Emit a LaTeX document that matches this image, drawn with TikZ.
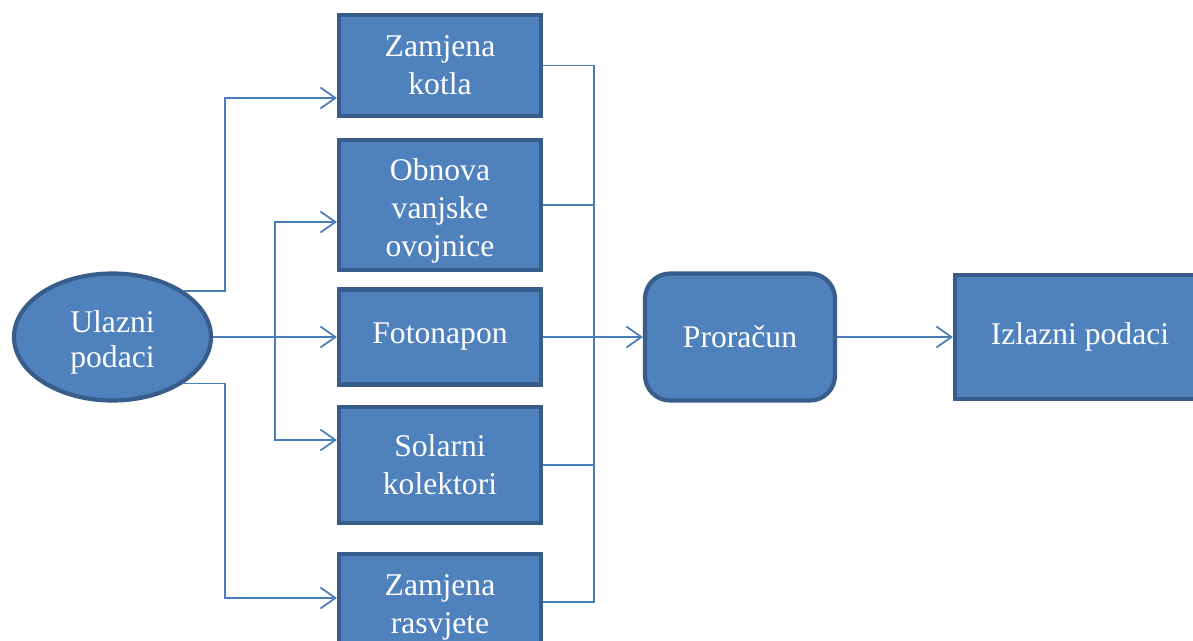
\documentclass[tikz,border=0pt]{standalone}
\usepackage{xcolor}
\usepackage{fontspec}
\setmainfont{Liberation Serif}
\usetikzlibrary{arrows.meta, positioning, shapes.geometric}

\definecolor{boxfill}{HTML}{4F81BD}
\definecolor{boxline}{HTML}{385D8A}
\definecolor{linkcol}{HTML}{4A7EBB}

\begin{document}
\begin{tikzpicture}[x=0.02cm, y=-0.02cm,
			>={Straight Barb[length=0.3cm, width=0.42cm]},
			box/.style={rectangle, fill=boxfill, draw=boxline, line width=2.4pt, text=white, align=center, inner sep=0pt, minimum width=4.04cm, font=\fontsize{18}{21.5}\selectfont},
			link/.style={->, draw=linkcol, line width=1pt},
			wire/.style={draw=linkcol, line width=1pt}]
			
			\useasboundingbox (0,0) rectangle (1193,640);
			\clip (0,0) rectangle (1193,640);
			
			\node[box, ellipse, minimum width=3.94cm, minimum height=2.54cm, font=\fontsize{18}{20}\selectfont] (ulaz) at (112.5,337) {\rule{0pt}{19pt}Ulazni\\podaci};
			\node[box, minimum height=2.02cm] (kotla) at (440,65.5) {Zamjena\\kotla};
			\node[box, minimum height=2.6cm] (obnova) at (440,205) {\rule{0pt}{19pt}Obnova\\vanjske\\ovojnice};
			\node[box, minimum height=1.9cm] (foto) at (440,337) {Fotonapon};
			\node[box, minimum height=2.32cm] (solar) at (440,465) {Solarni\\kolektori};
			\node[box, minimum height=1.92cm] (rasvjeta) at (440,602) {\rule{0pt}{18pt}Zamjena\\rasvjete};
			\node[box, rounded corners=0.5cm, minimum width=3.8cm, minimum height=2.54cm] (proracun) at (740,337) {Proračun};
			\node[box, minimum width=5cm, minimum height=2.48cm] (izlaz) at (1080,337) {Izlazni podaci};
			
			\coordinate (g1) at (225,98);
			\coordinate (g2) at (275,222);
			\coordinate (g3) at (275,440);
			\coordinate (g4) at (225,598);
			\coordinate (sab) at (594,337);
			
			\draw[link] (ulaz.north east) -| (g1) -- (kotla.west |- g1);
			\draw[link] (ulaz.east) -| (g2) -- (obnova.west |- g2);
			\draw[link] (ulaz.east) -- (foto.west);
			\draw[link] (ulaz.east) -| (g3) -- (solar.west |- g3);
			\draw[link] (ulaz.south east) -| (g4) -- (rasvjeta.west |- g4);
			
			\draw[wire] (kotla.east) -| (sab);
			\draw[wire] (obnova.east) -| (sab);
			\draw[wire] (solar.east) -| (sab);
			\draw[wire] (rasvjeta.east) -| (sab);
			\draw[link] (foto.east) -- (proracun.west);
			\draw[link] (proracun.east) -- (izlaz.west);
		\end{tikzpicture}
\end{document}
